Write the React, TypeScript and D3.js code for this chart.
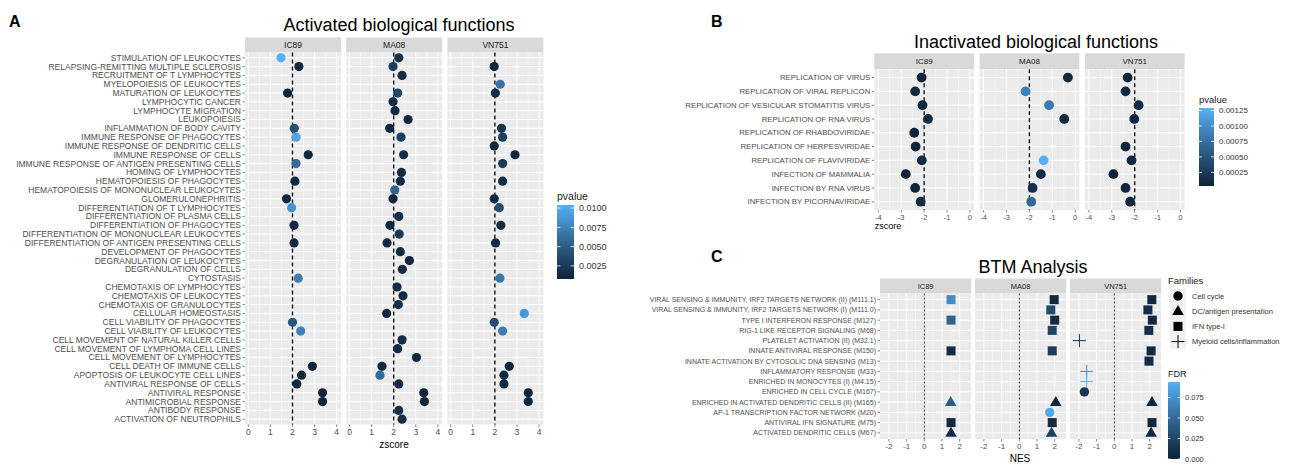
import * as d3 from "d3";

const FONT = "'Liberation Sans', Arial, Helvetica, sans-serif";
const LOW = "#0f2339";
const HIGH = "#56B1F7";
const AXIS_GREY = "#4d4d4d";

const facets = ["IC89", "MA08", "VN751"];

// ---- A: activated biological functions (top to bottom)
const activatedTerms = [
  "STIMULATION OF LEUKOCYTES",
  "RELAPSING-REMITTING MULTIPLE SCLEROSIS",
  "RECRUITMENT OF T LYMPHOCYTES",
  "MYELOPOIESIS OF LEUKOCYTES",
  "MATURATION OF LEUKOCYTES",
  "LYMPHOCYTIC CANCER",
  "LYMPHOCYTE MIGRATION",
  "LEUKOPOIESIS",
  "INFLAMMATION OF BODY CAVITY",
  "IMMUNE RESPONSE OF PHAGOCYTES",
  "IMMUNE RESPONSE OF DENDRITIC CELLS",
  "IMMUNE RESPONSE OF CELLS",
  "IMMUNE RESPONSE OF ANTIGEN PRESENTING CELLS",
  "HOMING OF LYMPHOCYTES",
  "HEMATOPOIESIS OF PHAGOCYTES",
  "HEMATOPOIESIS OF MONONUCLEAR LEUKOCYTES",
  "GLOMERULONEPHRITIS",
  "DIFFERENTIATION OF T LYMPHOCYTES",
  "DIFFERENTIATION OF PLASMA CELLS",
  "DIFFERENTIATION OF PHAGOCYTES",
  "DIFFERENTIATION OF MONONUCLEAR LEUKOCYTES",
  "DIFFERENTIATION OF ANTIGEN PRESENTING CELLS",
  "DEVELOPMENT OF PHAGOCYTES",
  "DEGRANULATION OF LEUKOCYTES",
  "DEGRANULATION OF CELLS",
  "CYTOSTASIS",
  "CHEMOTAXIS OF LYMPHOCYTES",
  "CHEMOTAXIS OF LEUKOCYTES",
  "CHEMOTAXIS OF GRANULOCYTES",
  "CELLULAR HOMEOSTASIS",
  "CELL VIABILITY OF PHAGOCYTES",
  "CELL VIABILITY OF LEUKOCYTES",
  "CELL MOVEMENT OF NATURAL KILLER CELLS",
  "CELL MOVEMENT OF LYMPHOMA CELL LINES",
  "CELL MOVEMENT OF LYMPHOCYTES",
  "CELL DEATH OF IMMUNE CELLS",
  "APOPTOSIS OF LEUKOCYTE CELL LINES",
  "ANTIVIRAL RESPONSE OF CELLS",
  "ANTIVIRAL RESPONSE",
  "ANTIMICROBIAL RESPONSE",
  "ANTIBODY RESPONSE",
  "ACTIVATION OF NEUTROPHILS",
];
const actZ_IC89 = [1.48, 2.29, null, null, 1.78, null, null, null, 2.08, 2.16, null, 2.71, 2.16, null, 2.11, null, 1.73, 1.96, null, 2.07, null, 2.07, null, null, null, 2.26, null, null, null, null, 2.0, 2.37, null, null, null, 2.9, 2.41, 2.2, 3.36, 3.36, null, null];
const actZ_MA08 = [2.23, 1.97, 2.38, null, 2.18, 1.97, 2.06, 2.65, 1.82, 2.33, null, 2.45, null, 2.35, 2.3, 2.05, 1.97, null, 2.23, 1.83, 2.25, 1.7, 2.3, 2.71, 2.39, null, 2.15, 2.42, 2.21, 1.68, null, null, 2.38, 2.18, 3.03, 1.47, 1.38, 2.23, 3.36, 3.39, 2.23, 2.38];
const actZ_VN751 = [null, 1.97, null, 2.24, 2.02, null, null, null, 2.3, 2.35, 1.97, 2.91, 2.35, null, 2.35, null, 1.97, 2.2, null, 2.27, null, 2.03, null, null, null, 2.23, null, null, null, 3.33, 1.97, 2.35, null, null, null, 2.65, 2.41, 2.41, 3.51, 3.51, null, null];
const actP_IC89 = [0.0104, 0.0012, null, null, 0.001, null, null, null, 0.004, 0.0095, null, 0.001, 0.006, null, 0.0012, null, 0.0012, 0.0085, null, 0.0013, null, 0.0012, null, null, null, 0.0072, null, null, null, null, 0.0045, 0.0075, null, null, null, 0.001, 0.0012, 0.0012, 0.0009, 0.0009, null, null];
const actP_MA08 = [0.002, 0.003, 0.0015, null, 0.0035, 0.0015, 0.0015, 0.0012, 0.0012, 0.003, null, 0.0015, null, 0.0015, 0.0015, 0.0055, 0.0012, null, 0.0018, 0.0012, 0.0025, 0.0012, 0.0015, 0.0012, 0.0014, null, 0.0015, 0.0015, 0.0018, 0.0012, null, null, 0.0015, 0.0015, 0.0012, 0.0012, 0.006, 0.0015, 0.0009, 0.0009, 0.0018, 0.0018];
const actP_VN751 = [null, 0.0012, null, 0.0065, 0.0015, null, null, null, 0.002, 0.003, 0.0012, 0.0012, 0.0025, null, 0.0015, null, 0.0012, 0.004, null, 0.0015, null, 0.0015, null, null, null, 0.0068, null, null, null, 0.0088, 0.004, 0.0072, null, null, null, 0.0012, 0.0013, 0.0013, 0.0009, 0.0009, null, null];
const actPTicks = [0.0025, 0.005, 0.0075, 0.01];

// ---- B: inactivated biological functions
const inactivatedTerms = [
  "REPLICATION OF VIRUS",
  "REPLICATION OF VIRAL REPLICON",
  "REPLICATION OF VESICULAR STOMATITIS VIRUS",
  "REPLICATION OF RNA VIRUS",
  "REPLICATION OF RHABDOVIRIDAE",
  "REPLICATION OF HERPESVIRIDAE",
  "REPLICATION OF FLAVIVIRIDAE",
  "INFECTION OF MAMMALIA",
  "INFECTION BY RNA VIRUS",
  "INFECTION BY PICORNAVIRIDAE",
];
const inaZ_IC89 = [-2.11, -2.39, -2.07, -1.83, -2.43, -2.37, -2.1, -2.8, -2.39, -2.15];
const inaZ_MA08 = [-0.32, -2.17, -1.14, -0.48, null, null, -1.38, -1.5, -1.86, -1.92];
const inaZ_VN751 = [-2.31, -2.4, -1.83, -2.02, null, -2.4, -2.14, -2.93, -2.4, -2.2];
const inaP_IC89 = [0.00005, 0.0001, 0.00008, 0.0001, 0.00005, 0.00006, 0.0001, 0.00004, 0.00005, 0.0001];
const inaP_MA08 = [0.00008, 0.0009, 0.00085, 0.0001, null, null, 0.00129, 0.0001, 0.00015, 0.0007];
const inaP_VN751 = [0.00006, 0.00008, 0.0001, 0.00008, null, 0.00006, 0.00008, 0.00004, 0.00006, 0.00008];
const inaPTicks = [0.00025, 0.0005, 0.00075, 0.001, 0.00125];

// ---- C: BTM analysis
const btmTerms = [
  "VIRAL SENSING & IMMUNITY, IRF2 TARGETS NETWORK (II) (M111.1)",
  "VIRAL SENSING & IMMUNITY, IRF2 TARGETS NETWORK (I) (M111.0)",
  "TYPE I INTERFERON RESPONSE (M127)",
  "RIG-1 LIKE RECEPTOR SIGNALING (M68)",
  "PLATELET ACTIVATION (II) (M32.1)",
  "INNATE ANTIVIRAL RESPONSE (M150)",
  "INNATE ACTIVATION BY CYTOSOLIC DNA SENSING (M13)",
  "INFLAMMATORY RESPONSE (M33)",
  "ENRICHED IN MONOCYTES (I) (M4.15)",
  "ENRICHED IN CELL CYCLE (M167)",
  "ENRICHED IN ACTIVATED DENDRITIC CELLS (II) (M165)",
  "AP-1 TRANSCRIPTION FACTOR NETWORK (M20)",
  "ANTIVIRAL IFN SIGNATURE (M75)",
  "ACTIVATED DENDRITIC CELLS (M67)",
];
const familyNames = ["Cell cycle", "DC/antigen presentation", "IFN type-I", "Myeloid cells/inflammation"];
const btmFamily = [
  "IFN type-I", "IFN type-I", "IFN type-I", "IFN type-I", "Myeloid cells/inflammation",
  "IFN type-I", "IFN type-I", "Myeloid cells/inflammation", "Myeloid cells/inflammation",
  "Cell cycle", "DC/antigen presentation", "Cell cycle", "IFN type-I", "DC/antigen presentation",
];
const nes_IC89 = [1.51, null, 1.51, null, null, 1.51, null, null, null, null, 1.49, null, 1.51, 1.51];
const nes_MA08 = [1.97, 1.78, 2.0, 1.86, null, 1.86, null, null, null, null, 2.06, 1.72, 1.86, 1.82];
const nes_VN751 = [2.12, 1.9, 2.15, 1.95, -1.97, 2.08, 1.96, -1.56, -1.56, -1.69, 2.13, null, 2.13, 2.08];
const fdr_IC89 = [0.072, null, 0.045, null, null, 0.006, null, null, null, null, 0.042, null, 0.004, 0.006];
const fdr_MA08 = [0.004, 0.028, 0.005, 0.024, null, 0.018, null, null, null, null, 0.003, 0.088, 0.006, 0.02];
const fdr_VN751 = [0.004, 0.008, 0.004, 0.01, 0.012, 0.005, 0.006, 0.07, 0.094, 0.015, 0.002, null, 0.003, 0.003];
const fdrTicks = [0, 0.025, 0.05, 0.075];

type Cell = number | null;

const gradient = (domain: [number, number]) =>
  d3.scaleLinear<string>().domain(domain).range([LOW, HIGH]).interpolate(d3.interpolateLab).clamp(true);

type GridCfg = {
  rows: string[];
  left: number;
  panelW: number;
  gap: number;
  stripTop: number;
  stripH: number;
  bottom: number;
  xDomain: [number, number];
  ticks: number[];
  minor: number[];
  ref: number;
  refDash: string;
  refWidth: number;
  labelSize: number;
  tickSize: number;
  stripSize: number;
};

// shared facet skeleton: strips, panels, grid, axes; marks are drawn by callback
function FacetGrid({ cfg, marks }: { cfg: GridCfg; marks: (x: d3.ScaleLinear<number, number>, y: d3.ScalePoint<string>, f: number) => any }) {
  const plotTop = cfg.stripTop + cfg.stripH;
  const y = d3.scalePoint<string>().domain(cfg.rows).range([plotTop, cfg.bottom]).padding(0.6);
  return (
    <g>
      {facets.map((name, f) => {
        const px = cfg.left + f * (cfg.panelW + cfg.gap);
        const x = d3.scaleLinear().domain(cfg.xDomain).range([px, px + cfg.panelW]);
        return (
          <g key={name}>
            <rect x={px} y={cfg.stripTop} width={cfg.panelW} height={cfg.stripH} fill="#d9d9d9" />
            <text x={px + cfg.panelW / 2} y={cfg.stripTop + cfg.stripH / 2} dy="0.35em" textAnchor="middle" fontSize={cfg.stripSize} fill="#1a1a1a">
              {name}
            </text>
            <rect x={px} y={plotTop} width={cfg.panelW} height={cfg.bottom - plotTop} fill="#ebebeb" />
            {cfg.minor.map((m) => (
              <line key={"m" + m} x1={x(m)} x2={x(m)} y1={plotTop} y2={cfg.bottom} stroke="#fff" strokeWidth={0.5} />
            ))}
            {cfg.ticks.map((t) => (
              <line key={"t" + t} x1={x(t)} x2={x(t)} y1={plotTop} y2={cfg.bottom} stroke="#fff" strokeWidth={1} />
            ))}
            {cfg.rows.map((r) => (
              <line key={r} x1={px} x2={px + cfg.panelW} y1={y(r)} y2={y(r)} stroke="#fff" strokeWidth={1} />
            ))}
            <line x1={x(cfg.ref)} x2={x(cfg.ref)} y1={plotTop} y2={cfg.bottom} stroke="#000" strokeWidth={cfg.refWidth} strokeDasharray={cfg.refDash} />
            {marks(x, y, f)}
            {cfg.ticks.map((t) => (
              <g key={"x" + t}>
                <line x1={x(t)} x2={x(t)} y1={cfg.bottom} y2={cfg.bottom + 2.5} stroke="#333" strokeWidth={0.6} />
                <text x={x(t)} y={cfg.bottom + 4} dy="0.8em" textAnchor="middle" fontSize={cfg.tickSize} fill={AXIS_GREY}>
                  {t}
                </text>
              </g>
            ))}
          </g>
        );
      })}
      {cfg.rows.map((r) => (
        <g key={"y" + r}>
          <line x1={cfg.left - 2.5} x2={cfg.left} y1={y(r)} y2={y(r)} stroke="#333" strokeWidth={0.6} />
          <text x={cfg.left - 4} y={y(r)} dy="0.35em" textAnchor="end" fontSize={cfg.labelSize} fill={AXIS_GREY}>
            {r}
          </text>
        </g>
      ))}
    </g>
  );
}

function ColorBar({ x, top, bottom, w, domain, ticks, fmt, title, id, labelSize }: {
  x: number; top: number; bottom: number; w: number; domain: [number, number]; ticks: number[];
  fmt: (v: number) => string; title: string; id: string; labelSize: number;
}) {
  const s = d3.scaleLinear().domain(domain).range([bottom, top]);
  const col = gradient(domain);
  const stops = d3.range(11).map((i) => domain[0] + ((domain[1] - domain[0]) * i) / 10);
  return (
    <g>
      <defs>
        <linearGradient id={id} x1="0" y1="1" x2="0" y2="0">
          {stops.map((v, i) => (
            <stop key={i} offset={i / 10} stopColor={col(v)} />
          ))}
        </linearGradient>
      </defs>
      <text x={x} y={top - 5} fontSize={labelSize + 1.5} fill="#1a1a1a">{title}</text>
      <rect x={x} y={top} width={w} height={bottom - top} fill={`url(#${id})`} />
      {ticks.map((t) => (
        <g key={t}>
          <line x1={x} x2={x + w / 5} y1={s(t)} y2={s(t)} stroke="#fff" strokeWidth={0.8} />
          <line x1={x + w - w / 5} x2={x + w} y1={s(t)} y2={s(t)} stroke="#fff" strokeWidth={0.8} />
          <text x={x + w + 5} y={s(t)} dy="0.35em" fontSize={labelSize} fill="#333">{fmt(t)}</text>
        </g>
      ))}
    </g>
  );
}

function Shape({ fam, x, y, fill }: { fam: string; x: number; y: number; fill: string }) {
  if (fam === "Cell cycle") return <circle cx={x} cy={y} r={4.7} fill={fill} />;
  if (fam === "DC/antigen presentation")
    return <path d={d3.symbol(d3.symbolTriangle, 58)() as string} transform={`translate(${x},${y + 0.5})`} fill={fill} />;
  if (fam === "IFN type-I") return <rect x={x - 4.5} y={y - 4.5} width={9} height={9} fill={fill} />;
  return (
    <g stroke={fill} strokeWidth={1}>
      <line x1={x - 6.5} x2={x + 6.5} y1={y} y2={y} />
      <line x1={x} x2={x} y1={y - 6.5} y2={y + 6.5} />
    </g>
  );
}

const actCfg: GridCfg = {
  rows: activatedTerms, left: 245, panelW: 96, gap: 5.2, stripTop: 37.5, stripH: 15, bottom: 424.5,
  xDomain: [-0.149, 4.195], ticks: [0, 1, 2, 3, 4], minor: [0.5, 1.5, 2.5, 3.5],
  ref: 2, refDash: "4,3", refWidth: 1.3, labelSize: 8.5, tickSize: 8.5, stripSize: 8.5,
};
const inaCfg: GridCfg = {
  rows: inactivatedTerms, left: 874.3, panelW: 99.7, gap: 5.6, stripTop: 53.3, stripH: 16, bottom: 210,
  xDomain: [-4.175, 0.179], ticks: [-4, -3, -2, -1, 0], minor: [-3.5, -2.5, -1.5, -0.5],
  ref: -2, refDash: "4,3", refWidth: 1.3, labelSize: 7.8, tickSize: 7.5, stripSize: 8,
};
const btmCfg: GridCfg = {
  rows: btmTerms, left: 880, panelW: 91.2, gap: 3.8, stripTop: 278.5, stripH: 15, bottom: 439,
  xDomain: [-2.503, 2.65], ticks: [-2, -1, 0, 1, 2], minor: [-1.5, -0.5, 0.5, 1.5],
  ref: 0, refDash: "2,2", refWidth: 0.8, labelSize: 7, tickSize: 8, stripSize: 7.5,
};

export default function App() {
  const actZ = [actZ_IC89, actZ_MA08, actZ_VN751];
  const actP = [actP_IC89, actP_MA08, actP_VN751];
  const actDomain: [number, number] = [0.0008, 0.0104];
  const actCol = gradient(actDomain);

  const inaZ = [inaZ_IC89, inaZ_MA08, inaZ_VN751];
  const inaP = [inaP_IC89, inaP_MA08, inaP_VN751];
  const inaDomain: [number, number] = [0.00003, 0.00129];
  const inaCol = gradient(inaDomain);

  const nes = [nes_IC89, nes_MA08, nes_VN751];
  const fdr = [fdr_IC89, fdr_MA08, fdr_VN751];
  const fdrDomain: [number, number] = [0, 0.094];
  const fdrCol = gradient(fdrDomain);

  const dots = (zs: Cell[][], ps: Cell[][], col: (v: number) => string, rows: string[], r: number) =>
    (x: d3.ScaleLinear<number, number>, y: d3.ScalePoint<string>, f: number) =>
      rows.map((row, i) =>
        zs[f][i] == null ? null : (
          <circle key={row} cx={x(zs[f][i] as number)} cy={y(row)} r={r} fill={col(ps[f][i] as number)} />
        )
      );

  return (
    <svg width={1297} height={465} style={{ position: "absolute", left: 0, top: 0, background: "#fff" }} fontFamily={FONT}>
      {/* panel letters */}
      <text x={9} y={27} fontSize={16} fontWeight="bold">A</text>
      <text x={711} y={27} fontSize={16} fontWeight="bold">B</text>
      <text x={711} y={262} fontSize={16} fontWeight="bold">C</text>

      {/* A */}
      <text x={399} y={31} textAnchor="middle" fontSize={18} fill="#000">Activated biological functions</text>
      <FacetGrid cfg={actCfg} marks={dots(actZ, actP, actCol, activatedTerms, 4.6)} />
      <text x={394} y={448} textAnchor="middle" fontSize={10} fill="#000">zscore</text>
      <ColorBar x={557} top={205} bottom={279} w={17} domain={actDomain} ticks={actPTicks}
        fmt={(v) => v.toFixed(4)} title="pvalue" id="gA" labelSize={9} />

      {/* B */}
      <text x={1036} y={48} textAnchor="middle" fontSize={18} fill="#000">Inactivated biological functions</text>
      <FacetGrid cfg={inaCfg} marks={dots(inaZ, inaP, inaCol, inactivatedTerms, 4.9)} />
      <text x={888} y={229} textAnchor="middle" fontSize={9} fill="#000">zscore</text>
      <ColorBar x={1199} top={108} bottom={186} w={15} domain={inaDomain} ticks={inaPTicks}
        fmt={(v) => v.toFixed(5)} title="pvalue" id="gB" labelSize={8} />

      {/* C */}
      <text x={1033} y={273} textAnchor="middle" fontSize={18} fill="#000">BTM Analysis</text>
      <FacetGrid
        cfg={btmCfg}
        marks={(x, y, f) =>
          btmTerms.map((row, i) =>
            nes[f][i] == null ? null : (
              <Shape key={row} fam={btmFamily[i]} x={x(nes[f][i] as number)} y={y(row) as number} fill={fdrCol(fdr[f][i] as number)} />
            )
          )
        }
      />
      <text x={1020} y={462} textAnchor="middle" fontSize={10} fill="#000">NES</text>

      <text x={1168} y={284} fontSize={9.5} fill="#1a1a1a">Families</text>
      {familyNames.map((fam, i) => {
        const cy = 296 + i * 15.2;
        return (
          <g key={fam}>
            <rect x={1170} y={cy - 7.5} width={16} height={15} fill="#f2f2f2" />
            <Shape fam={fam} x={1178} y={cy} fill="#000" />
            <text x={1192} y={cy} dy="0.35em" fontSize={7.5} fill="#333">{fam}</text>
          </g>
        );
      })}
      <ColorBar x={1168} top={382} bottom={459} w={12} domain={fdrDomain} ticks={fdrTicks}
        fmt={(v) => v.toFixed(3)} title="FDR" id="gC" labelSize={7.5} />
    </svg>
  );
}
